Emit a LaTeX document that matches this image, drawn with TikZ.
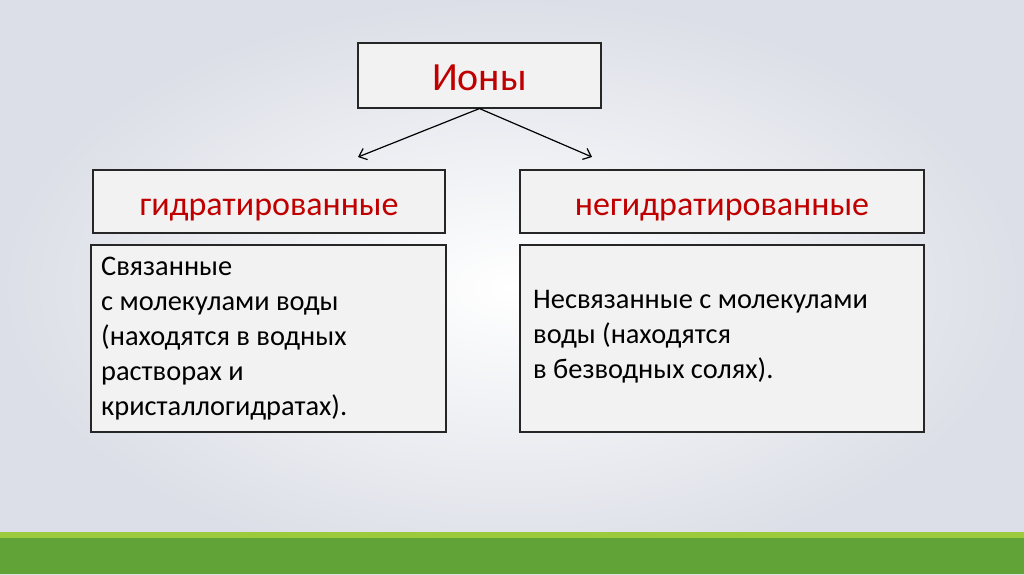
\documentclass[tikz,border=0pt]{standalone}
\usepackage{fontspec}
\setmainfont{Carlito}
\usetikzlibrary{arrows.meta,calc}
\definecolor{bgedge}{HTML}{DCDFE7}
\definecolor{boxfill}{HTML}{F2F2F2}
\definecolor{hdred}{HTML}{C00000}
\definecolor{lgreen}{HTML}{9BCB3D}
\definecolor{dgreen}{HTML}{62A337}
\tikzset{
  box/.style={draw=black!85, line width=1.1pt, fill=boxfill, inner sep=0pt},
  hdtext/.style={text=hdred, font=\fontsize{34}{40}\selectfont, anchor=base, inner sep=0pt},
  bodytext/.style={font=\fontsize{28.4}{35}\selectfont, align=left, anchor=north west, inner sep=0pt},
  conn/.style={line width=1.2pt, -{Straight Barb[length=7pt, width=12pt, line width=1.2pt]}}
}
\begin{document}
\begin{tikzpicture}[x=1pt,y=-1pt]
\useasboundingbox (0,0) rectangle (1024,574);
\shade[inner color=white, outer color=bgedge] (0,0) rectangle (1024,574);
\fill[lgreen] (0,532) rectangle (1024,538);
\fill[dgreen] (0,538) rectangle (1024,574);
% boxes
\node[box, minimum width=243pt, minimum height=65pt] (ions) at (479.5,75.5) {};
\node[hdtext, font=\fontsize{40}{44}\selectfont] (ionsT) at ($(ions.center)+(0,14.5)$) {Ионы};
\node[box, minimum width=352pt, minimum height=63pt] (hyd) at (269,201.5) {};
\node[hdtext] (hydT) at ($(hyd.center)+(0,13.5)$) {гидратированные};
\node[box, minimum width=404pt, minimum height=63pt] (nhyd) at (722,201.5) {};
\node[hdtext] (nhydT) at ($(nhyd.center)+(0,13.5)$) {негидратированные};
\node[box, minimum width=355pt, minimum height=187pt] (hydB) at (268.5,338.5) {};
\node[box, minimum width=404pt, minimum height=187pt] (nhydB) at (722,338.5) {};
\node[bodytext] (hydBT) at (101,257) {Связанные\\с молекулами воды\\(находятся в водных\\растворах и\\кристаллогидратах).};
\node[bodytext] (nhydBT) at (533,290) {Несвязанные с молекулами\\воды (находятся\\в безводных солях).};
% connectors
\coordinate (l) at (358,157);
\coordinate (r) at (592,157);
\draw[conn] (ions.south) -- (l);
\draw[conn] (ions.south) -- (r);
\end{tikzpicture}
\end{document}
